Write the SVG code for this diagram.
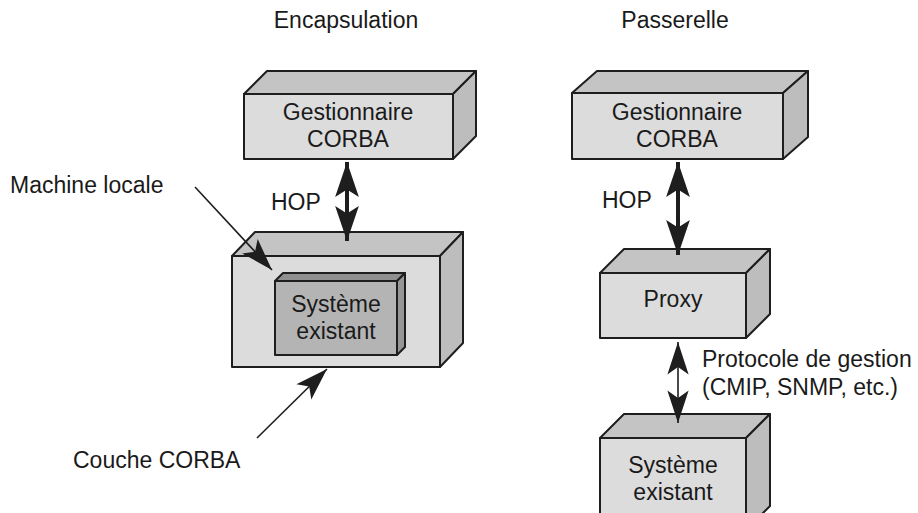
<svg xmlns="http://www.w3.org/2000/svg" width="918" height="513" viewBox="0 0 918 513">
<defs>
<style>
.t{font-family:"Liberation Sans",Arial,sans-serif;font-size:23px;fill:#1a1a1a}
.m{text-anchor:middle}
.front{fill:#dcdcdc;stroke:#1e1e1e;stroke-width:2;stroke-linejoin:round}
.top{fill:#c4c4c4;stroke:#1e1e1e;stroke-width:2;stroke-linejoin:round}
.side{fill:#bdbdbd;stroke:#1e1e1e;stroke-width:2;stroke-linejoin:round}
.ifront{fill:#b4b4b4;stroke:#1e1e1e;stroke-width:2;stroke-linejoin:round}
.itop{fill:#8f8f8f;stroke:#1e1e1e;stroke-width:2;stroke-linejoin:round}
.iside{fill:#969696;stroke:#1e1e1e;stroke-width:2;stroke-linejoin:round}
.thick{stroke:#1e1e1e;stroke-width:4;fill:none}
.thin{stroke:#1e1e1e;stroke-width:1.6;fill:none}
</style>
<marker id="hb" markerUnits="userSpaceOnUse" markerWidth="40" markerHeight="30" viewBox="-30 -12 32 24" refX="0" refY="0" orient="auto-start-reverse">
<path d="M0,0 L-28,-9.5 L-22,0 L-28,9.5 Z" fill="#1e1e1e"/>
</marker>
<marker id="ha" markerUnits="userSpaceOnUse" markerWidth="40" markerHeight="30" viewBox="-30 -12 32 24" refX="0" refY="0" orient="auto-start-reverse">
<path d="M0,0 L-26,-8.5 L-20,0 L-26,8.5 Z" fill="#1e1e1e"/>
</marker>
</defs>
<rect width="918" height="513" fill="#ffffff"/>

<text class="t m" x="346" y="28">Encapsulation</text>
<text class="t m" x="675" y="28">Passerelle</text>

<g id="gest-left">
<polygon class="top" points="244,94 267,71 476,71 453,94"/>
<polygon class="side" points="453,94 476,71 476,136 453,159"/>
<rect class="front" x="244" y="94" width="209" height="65"/>
<text class="t m" x="348" y="120">Gestionnaire</text>
<text class="t m" x="348" y="147">CORBA</text>
</g>

<g id="machine-locale">
<polygon class="top" points="232,256 255,232 463,232 440,256"/>
<polygon class="side" points="440,256 463,232 463,343 440,367"/>
<rect class="front" x="232" y="256" width="208" height="111"/>
</g>

<g id="systeme-left">
<polygon class="itop" points="275,281 283,273 405,273 397,281"/>
<polygon class="iside" points="397,281 405,273 405,347 397,355"/>
<rect class="ifront" x="275" y="281" width="122" height="74"/>
<text class="t m" x="336" y="312">Système</text>
<text class="t m" x="336" y="339">existant</text>
</g>

<g id="gest-right">
<polygon class="top" points="572,93 597,71 808,71 783,93"/>
<polygon class="side" points="783,93 808,71 808,137 783,159"/>
<rect class="front" x="572" y="93" width="211" height="66"/>
<text class="t m" x="677" y="120">Gestionnaire</text>
<text class="t m" x="677" y="147">CORBA</text>
</g>

<g id="proxy">
<polygon class="top" points="600,273 624,249 770,249 746,273"/>
<polygon class="side" points="746,273 770,249 770,314 746,338"/>
<rect class="front" x="600" y="273" width="146" height="65"/>
<text class="t m" x="673" y="307">Proxy</text>
</g>

<g id="systeme-right">
<polygon class="top" points="600,438 624,414 770,414 746,438"/>
<polygon class="side" points="746,438 770,414 770,506 746,530"/>
<rect class="front" x="600" y="438" width="146" height="92"/>
<text class="t m" x="673" y="473">Système</text>
<text class="t m" x="673" y="500">existant</text>
</g>

<g id="connectors">
<line class="thick" x1="347" y1="162" x2="347" y2="241" marker-start="url(#hb)" marker-end="url(#hb)"/>
<line class="thick" x1="678" y1="162" x2="678" y2="255" marker-start="url(#hb)" marker-end="url(#hb)"/>
<line class="thin" x1="678" y1="342" x2="678" y2="423" marker-start="url(#ha)" marker-end="url(#ha)"/>
<line class="thin" x1="195" y1="187" x2="272" y2="270" marker-end="url(#ha)"/>
<line class="thin" x1="257" y1="438" x2="327" y2="369" marker-end="url(#ha)"/>
</g>

<text class="t" x="271" y="210">HOP</text>
<text class="t" x="602" y="208">HOP</text>
<text class="t" x="10" y="193">Machine locale</text>
<text class="t" x="73" y="468">Couche CORBA</text>
<text class="t" x="702" y="367">Protocole de gestion</text>
<text class="t" x="702" y="395">(CMIP, SNMP, etc.)</text>
</svg>
